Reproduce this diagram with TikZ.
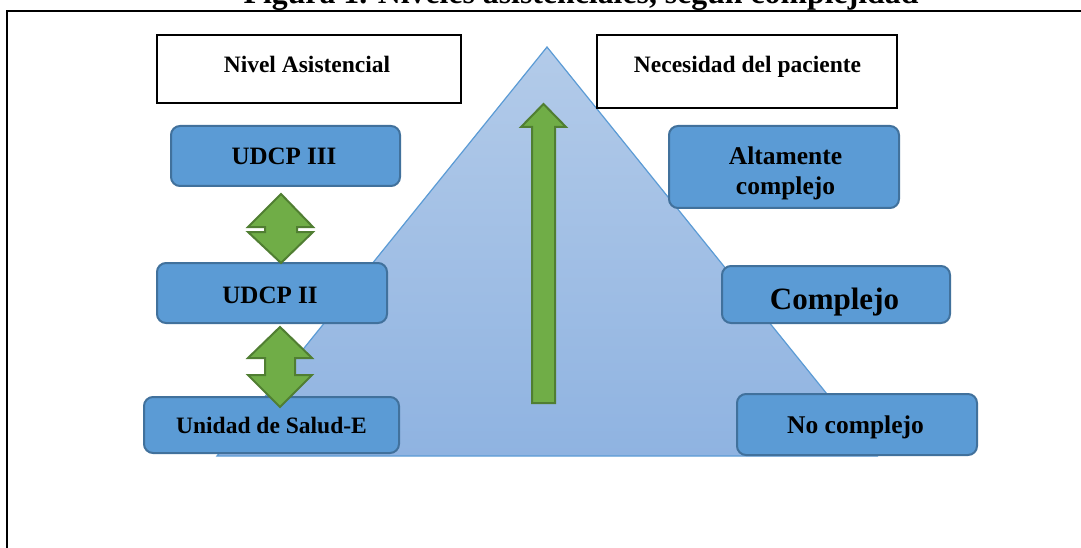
\documentclass[tikz,border=0pt]{standalone}
\usepackage{fontspec}
\setmainfont{Liberation Serif}
\usetikzlibrary{calc}
\definecolor{boxblue}{HTML}{5B9BD5}
\definecolor{boxedge}{HTML}{41719C}
\definecolor{trtop}{HTML}{B3CBE9}
\definecolor{trbot}{HTML}{8FB3E1}
\definecolor{trline}{HTML}{5B9BD5}
\definecolor{grfill}{HTML}{70AD47}
\definecolor{gredge}{HTML}{507E32}
\newcommand{\fs}[1]{\fontsize{#1}{#1}\selectfont\bfseries}
\begin{document}
\begin{tikzpicture}[x=1pt,y=-1pt,
  rbox/.style={draw=boxedge, fill=boxblue, line width=2pt, rounded corners=9pt, inner sep=0pt},
  hbox/.style={draw=black, fill=white, line width=2.4pt, inner sep=0pt},
  txt/.style={inner sep=0pt, anchor=base, text=black},
  grarrow/.style={fill=grfill, draw=gredge, line width=2pt, line join=miter}]
\useasboundingbox (0,0) rectangle (1081,548);
\clip (0,0) rectangle (1081,548);
\fill[white] (0,0) rectangle (1081,548);

% title and outer frame
\node[txt] (title) at (581,4) {\fs{31.8}Figura 1. Niveles asistenciales, según complejidad};
\draw[line width=2.6pt] (7,560) -- (7,11) -- (1095,11);

% pyramid
\coordinate (apex) at (547,47);
\coordinate (baseL) at (217,456);
\coordinate (baseR) at (877,456);
\shade[top color=trtop, bottom color=trbot] (apex) -- (baseR) -- (baseL) -- cycle;
\draw[trline, line width=1.2pt, line join=miter] (apex) -- (baseR) -- (baseL) -- cycle;

% header boxes
\node[hbox, minimum width=304pt, minimum height=68pt] (nivel) at (309,69) {};
\node[txt] (niveltxt) at (307,73) {\fs{23.5}Nivel Asistencial};
\node[hbox, minimum width=300pt, minimum height=73pt] (necesidad) at (747,71.5) {};
\node[txt] (necesidadtxt) at (747.5,73) {\fs{23.5}Necesidad del paciente};

% care levels
\node[rbox, minimum width=229pt, minimum height=60pt] (udcp3) at (285.5,156) {};
\node[txt] (udcp3txt) at (284,165) {\fs{25}UDCP III};
\node[rbox, minimum width=230pt, minimum height=60pt] (udcp2) at (272,293) {};
\node[txt] (udcp2txt) at (270,303) {\fs{25}UDCP II};
\node[rbox, minimum width=255pt, minimum height=56pt] (usalud) at (271.5,425) {};
\node[txt] (usaludtxt) at (271.5,433) {\fs{23.5}Unidad de Salud-E};

% patient needs
\node[rbox, minimum width=230pt, minimum height=82pt] (alta) at (784,167) {};
\node[txt] (altatxt1) at (785.5,165) {\fs{25.5}Altamente};
\node[txt] (altatxt2) at (785.5,195) {\fs{25.5}complejo};
\node[rbox, minimum width=228pt, minimum height=57pt] (compl) at (836,294.5) {};
\node[txt] (compltxt) at (834.5,309) {\fs{31}Complejo};
\node[rbox, minimum width=240pt, minimum height=61pt] (nocompl) at (857,424.5) {};
\node[txt] (nocompltxt) at (855.5,433) {\fs{25.5}No complejo};

% two-way arrows between levels
\draw[grarrow] (281,194) -- (313,227) -- (297,227) -- (297,232) -- (313,232)
  -- (281,263) -- (248,232) -- (265,232) -- (265,227) -- (248,227) -- cycle;
\draw[grarrow] (280,327) -- (312,358) -- (295,358) -- (295,375) -- (312,375)
  -- (280,407) -- (248,375) -- (265,375) -- (265,358) -- (248,358) -- cycle;

% upward arrow inside the pyramid
\draw[grarrow] (543.5,104) -- (566,127) -- (555,127) -- (555,403)
  -- (532,403) -- (532,127) -- (521,127) -- cycle;
\end{tikzpicture}
\end{document}
